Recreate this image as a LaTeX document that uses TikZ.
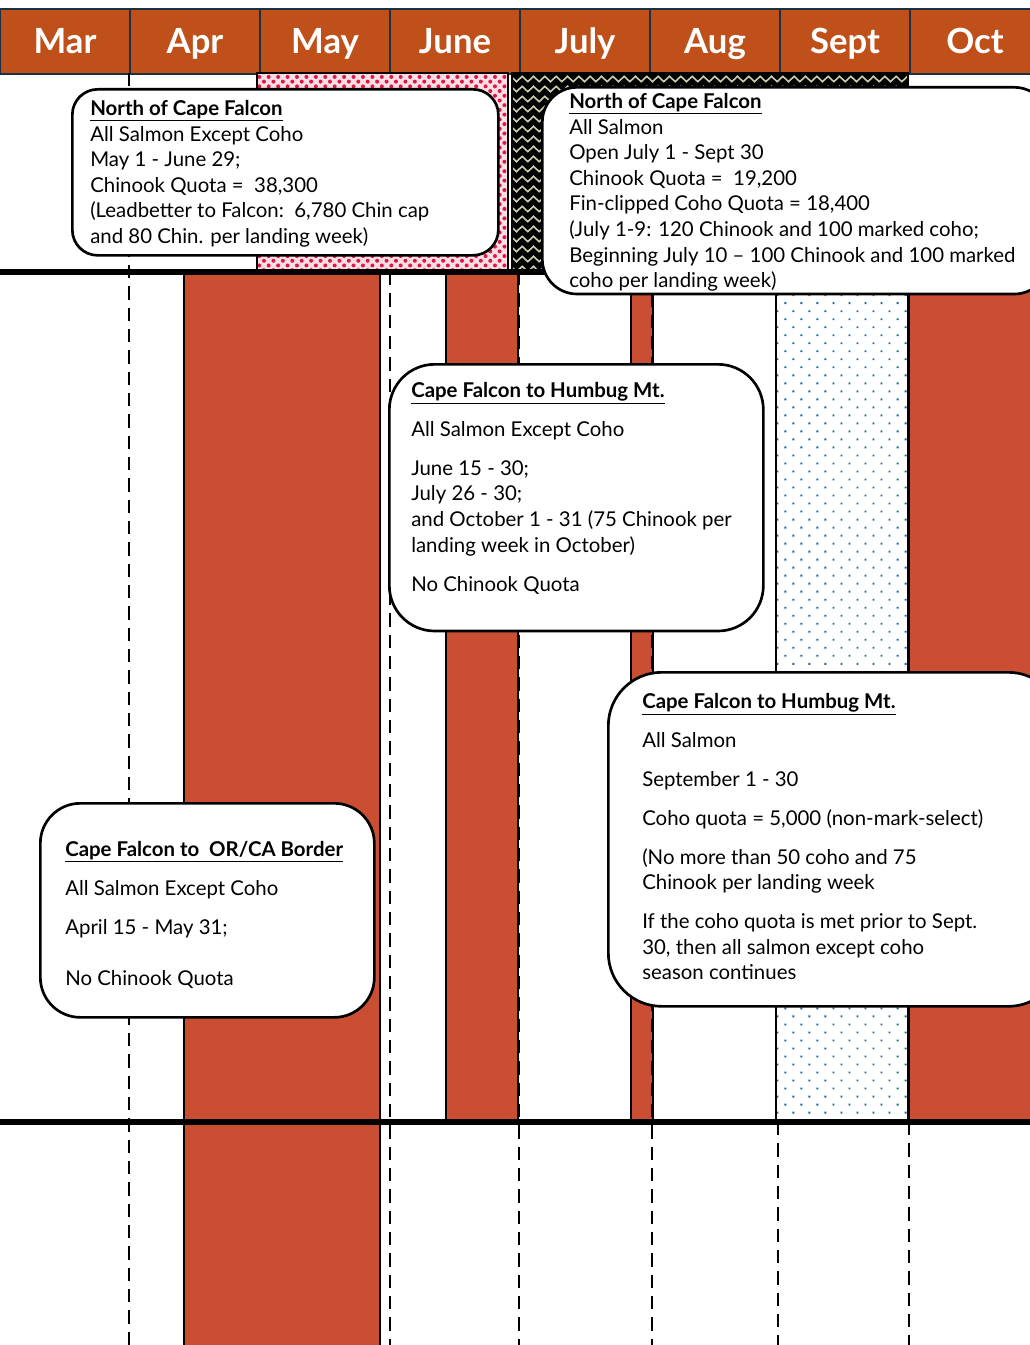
\documentclass[tikz,border=0pt]{standalone}
\usepackage{fontspec}
\setmainfont{Lato}
\usetikzlibrary{patterns,patterns.meta,decorations.pathmorphing}
\definecolor{hdrorange}{RGB}{192,80,26}
\definecolor{hdrline}{RGB}{28,48,68}
\definecolor{barred}{RGB}{202,78,50}
\definecolor{dotblue}{RGB}{30,100,145}
\definecolor{chkpink}{RGB}{252,222,230}
\definecolor{chkred}{RGB}{222,24,64}
\definecolor{zigline}{RGB}{205,205,170}
\newcommand{\hdg}[1]{\underline{\textbf{#1}}}
\begin{document}
\begin{tikzpicture}[x=0.75pt,y=-0.75pt,font={\fontsize{15.3}{19.2}\selectfont}]
    \tikzstyle{month}=[draw=hdrline,line width=1.5pt,fill=hdrorange,text=white,font={\fontsize{26}{28}\selectfont\bfseries},text height=18.5pt,text depth=0pt,minimum width=97.5pt,minimum height=48.75pt,anchor=north west]
    \tikzstyle{bar}=[fill=barred,draw=black,line width=1.5pt]
    \tikzstyle{grid}=[line width=1.5pt,dash pattern=on 10pt off 6pt]
    \tikzstyle{rule}=[line width=4pt]
    \tikzstyle{panel}=[draw=black,line width=2pt,fill=white,rectangle,anchor=north west,inner sep=0pt]
    \tikzstyle{txt}=[align=left,anchor=north west,inner sep=0pt]
    \useasboundingbox (0,0) rectangle (1030,1345);
    \clip (0,0) rectangle (1030,1345);

    % month header
    \foreach \m [count=\i from 0] in {Mar,Apr,May,June,July,Aug,Sept,Oct}
        \node[month] (\m) at (\i*130-1,8) {\m};

    % north of cape falcon seasons
    \fill[chkpink] (257,73) rectangle (508,270);
    \fill[pattern={Dots[distance=5pt,angle=45,radius=1.5pt]},pattern color=chkred] (257,73) rectangle (508,270);
    \draw[line width=1.5pt] (257,73) rectangle (508,270);
    \begin{scope}
        \fill[black] (512,73) rectangle (908,270);
        \clip (512,73) rectangle (908,270);
        \foreach \yy in {79,89,...,269}
            \draw[zigline,line width=1.2pt,decorate,decoration={zigzag,segment length=8.5pt,amplitude=2pt}] (508,\yy) -- (912,\yy);
    \end{scope}
    \draw[line width=1.5pt] (512,73) rectangle (908,270);

    % south of cape falcon seasons
    \draw[bar] (184,272) rectangle (380,1350);
    \draw[bar] (446,272) rectangle (518,1122);
    \draw[bar] (631,272) rectangle (653,1122);
    \draw[bar] (909,272) rectangle (1040,1122);
    \draw[line width=1.5pt,pattern={Dots[distance=8.5pt,angle=45,radius=1pt]},pattern color=dotblue] (776,272) rectangle (908,1122);

    % month lines
    \draw[grid] (129,73) -- (129,1345);
    \draw[grid] (390,272) -- (390,1345);
    \draw[grid] (519,272) -- (519,1345);
    \draw[grid] (652,272) -- (652,1345);
    \draw[grid] (778,1122) -- (778,1345);
    \draw[grid] (909,1122) -- (909,1345);
    \draw[rule] (0,272) -- (1030,272);
    \draw[rule] (0,1122) -- (1030,1122);

    % boxes
    \node[panel,rounded corners=19pt,minimum width=319.5pt,minimum height=124.5pt] (ncf1) at (71,88) {};
    \node[txt] (ncf1txt) at (90,100) {\hdg{North of Cape Falcon}\\
        All Salmon Except Coho\\
        May 1 - June 29;\\
        Chinook Quota =\ \ 38,300\\
        (Leadbetter to Falcon:\ \ 6,780 Chin cap\\
        and 80 Chin. per landing week)};

    \node[panel,rounded corners=26pt,minimum width=380pt,minimum height=155pt] (ncf2) at (541,86) {};
    \node[txt] (ncf2txt) at (569,93) {\hdg{North of Cape Falcon}\\
        All Salmon\\
        Open July 1 - Sept 30\\
        Chinook Quota =\ \ 19,200\\
        Fin-clipped Coho Quota = 18,400\\
        (July 1-9: 120 Chinook and 100 marked coho;\\
        Beginning July 10 -- 100 Chinook and 100 marked\\
        coho per landing week)};

    \node[panel,rounded corners=34pt,minimum width=280.5pt,minimum height=200pt] (cfh1) at (388,363) {};
    \node[txt] (cfh1txt) at (411,382) {\hdg{Cape Falcon to Humbug Mt.}\\[10pt]
        All Salmon Except Coho\\[10pt]
        June 15 - 30;\\
        July 26 - 30;\\
        and October 1 - 31 (75 Chinook per\\
        landing week in October)\\[10pt]
        No Chinook Quota};

    \node[panel,rounded corners=40pt,minimum width=340pt,minimum height=250.5pt] (cfh2) at (607,671) {};
    \node[txt] (cfh2txt) at (642,693) {\hdg{Cape Falcon to Humbug Mt.}\\[10pt]
        All Salmon\\[10pt]
        September 1 - 30\\[10pt]
        Coho quota = 5,000 (non-mark-select)\\[10pt]
        (No more than 50 coho and 75\\
        Chinook per landing week\\[10pt]
        If the coho quota is met prior to Sept.\\
        30, then all salmon except coho\\
        season continues};

    \node[panel,rounded corners=30pt,minimum width=250.5pt,minimum height=160.5pt] (cfor) at (39,802) {};
    \node[txt] (cfortxt) at (65,841) {\hdg{Cape Falcon to\ \ OR/CA Border}\\[10pt]
        All Salmon Except Coho\\[10pt]
        April 15 - May 31;\\[19.2pt]
        No Chinook Quota};
\end{tikzpicture}
\end{document}
